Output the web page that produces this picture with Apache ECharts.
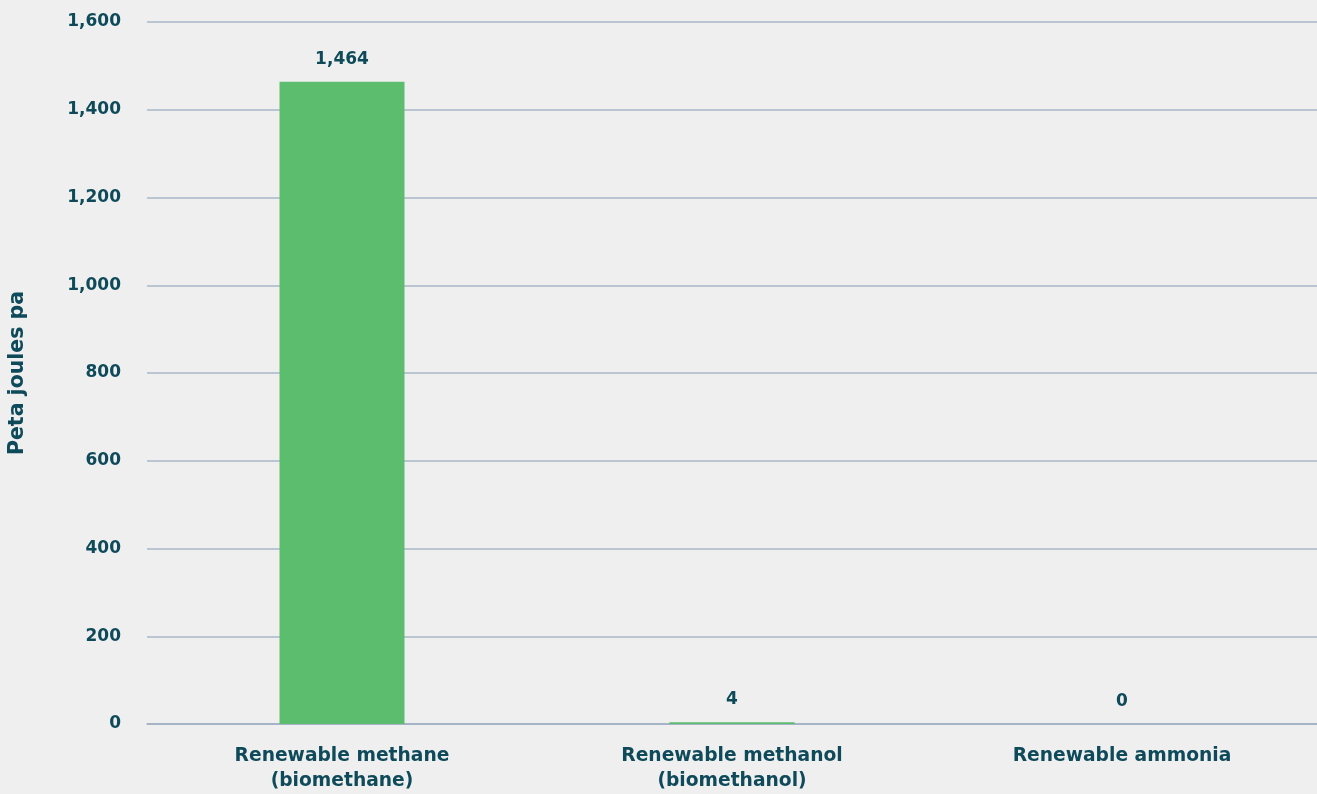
<!DOCTYPE html>
<html><head><meta charset="utf-8">
<script src="https://cdn.jsdelivr.net/npm/echarts@6/dist/echarts.min.js"></script>
<style>html,body{margin:0;padding:0;background:#efefef;}#c{width:1317px;height:794px;}</style>
</head><body><div id="c"></div>
<script>
const categories = ['Renewable methane\n(biomethane)', 'Renewable methanol\n(biomethanol)', 'Renewable ammonia'];
const values = [1464, 4, 0];
const yTicks = {min: 0, max: 1600, interval: 200};
const axisTitle = 'Peta joules pa';

const textColor = '#0f4a5a';
const font = 'DejaVu Sans';
const chart = echarts.init(document.getElementById('c'));
chart.setOption({
  backgroundColor: '#efefef',
  animation: false,
  grid: {left: 147, right: 0, top: 22, bottom: 70, containLabel: false, outerBoundsMode: 'none'},
  xAxis: {
    type: 'category', data: categories,
    axisLine: {show: true, lineStyle: {color: '#9fb0c4', width: 1.5}},
    axisTick: {show: false},
    axisLabel: {color: textColor, fontFamily: font, fontWeight: 'bold', fontSize: 18.7, lineHeight: 25, margin: 20}
  },
  yAxis: {
    type: 'value', min: yTicks.min, max: yTicks.max, interval: yTicks.interval,
    name: axisTitle, nameLocation: 'middle', nameGap: 119, nameRotate: 90,
    nameTextStyle: {color: textColor, fontFamily: font, fontWeight: 'bold', fontSize: 20.5},
    axisLine: {show: false}, axisTick: {show: false},
    splitLine: {lineStyle: {color: '#a9b7c7', width: 1.5}},
    axisLabel: {color: textColor, fontFamily: font, fontWeight: 'bold', fontSize: 17, margin: 26,
      formatter: v => v.toLocaleString('en-US')}
  },
  series: [{
    type: 'bar', data: values, barWidth: 125,
    itemStyle: {color: '#5cbd6e'},
    label: {show: true, position: 'top', distance: 14, color: textColor, fontFamily: font, fontWeight: 'bold', fontSize: 17,
      formatter: p => p.value.toLocaleString('en-US')}
  }]
});
</script></body></html>
